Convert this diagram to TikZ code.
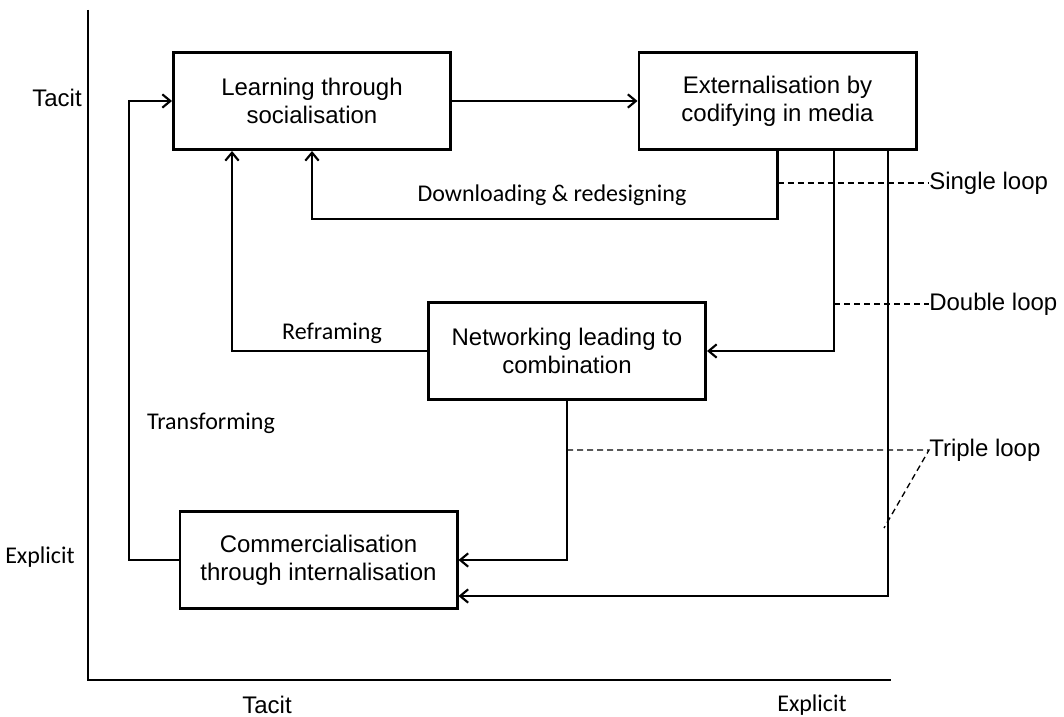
\documentclass[tikz,border=0pt]{standalone}
\usepackage{fontspec}
\setmainfont{Liberation Sans}
\newfontfamily\calfont{Carlito}
\usetikzlibrary{arrows.meta}
\begin{document}
\begin{tikzpicture}[x=0.75pt,y=-0.75pt,
  stage/.style={draw,line width=2pt,minimum width=208pt,minimum height=73pt,
    inner sep=0pt,align=center,font=\fontsize{18}{21}\selectfont},
  flow/.style={line width=1.6pt,-{Straight Barb[length=6pt,width=10pt,line width=1.6pt]}},
  link/.style={line width=1.6pt},
  axisline/.style={line width=1.6pt},
  leader/.style={line width=1pt,dash pattern=on 4.5pt off 3pt},
  lbl/.style={font=\fontsize{18}{21}\selectfont,inner sep=0pt},
  clbl/.style={font=\calfont\fontsize{18}{21}\selectfont,inner sep=0pt}]
\useasboundingbox (0,0) rectangle (1064,717);

% axes
\coordinate (ytop) at (88,10);
\coordinate (orig) at (88,680);
\coordinate (xend) at (891,680);
\draw[axisline] (ytop) -- (orig) -- (xend);
\node[lbl]  (ytacit) at (57,98)  {Tacit};
\node[clbl] (yexpl)  at (40,557) {Explicit};
\node[lbl]  (xtacit) at (267,705) {Tacit};
\node[clbl] (xexpl)  at (812,705) {Explicit};

% the four stages
\node[stage] (b1) at (312,101)   {Learning through\\socialisation};
\node[stage] (b2) at (777.5,101) {Externalisation by\\codifying in media};
\node[stage] (b3) at (567,351)   {Networking leading to\\combination};
\node[stage] (b4) at (318.5,560) {Commercialisation\\through internalisation};

% helper positions for the routed connectors
\coordinate (xl) at (129,0);
\coordinate (xr) at (232,0);
\coordinate (x2) at (834,0);
\coordinate (x3) at (888,0);
\coordinate (yd) at (0,219);
\coordinate (yt) at (0,596);

% connectors
\draw[flow] (b1.east) -- (b2.west |- b1.east);
\draw[flow] (b2.south) -- (b2.south |- yd) -| (b1.south);
\draw[flow] (b2.south -| x2) |- (b3.east);
\draw[flow] (b2.south -| x3) |- (b4.east |- yt);
\draw[flow] (b3.west) -| (b1.south -| xr);
\draw[flow] (b3.south) |- (b4.east);
\draw[flow] (b4.west) -| (xl |- b1.west) -- (b1.west);

% connector labels
\node[clbl] (dr) at (552,195) {Downloading \& redesigning};
\node[clbl] (rf) at (332,333) {Reframing};
\node[clbl] (tf) at (211,423) {Transforming};

% loop labels with dashed leaders
\node[lbl,anchor=west] (sl) at (929,183) {Single loop};
\node[lbl,anchor=west] (dl) at (929,304) {Double loop};
\node[lbl,anchor=west] (tl) at (929,450) {Triple loop};
\coordinate (tlend) at (884,528);
\draw[leader] (sl.west -| b2.south) -- (sl.west);
\draw[leader] (dl.west -| x2) -- (dl.west);
\draw[leader] (tl.west -| b3.south) -- (tl.west) -- (tlend);
\end{tikzpicture}
\end{document}
